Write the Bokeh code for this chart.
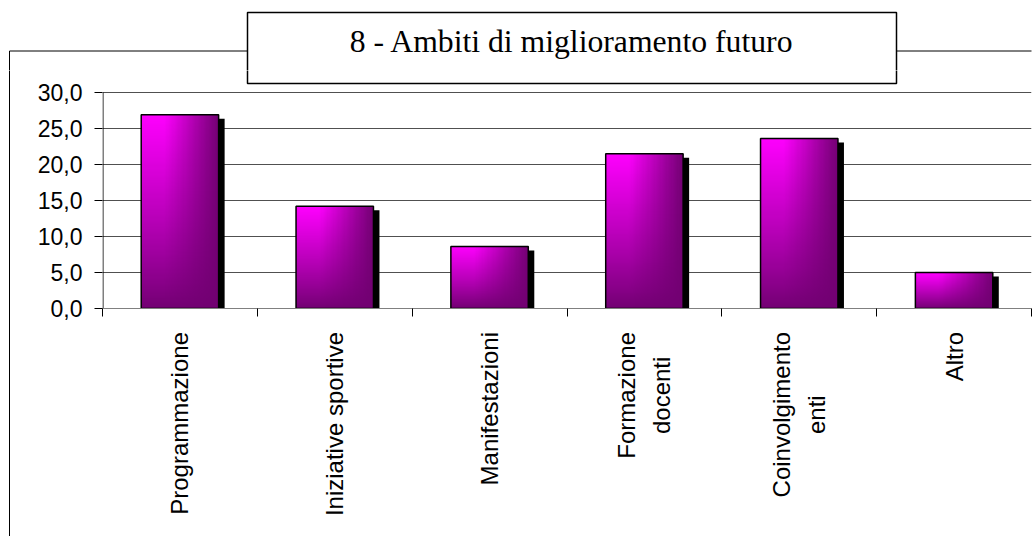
import math
import numpy as np
from bokeh.plotting import figure
from bokeh.layouts import row, column
from bokeh.models import Range1d, FixedTicker, ColumnDataSource
from bokeh.core.properties import value
from bokeh.embed import file_html
from bokeh.resources import INLINE

# ---- data ----
categories = ["Programmazione", "Iniziative sportive", "Manifestazioni",
              "Formazione\ndocenti", "Coinvolgimento\nenti", "Altro"]
values = [26.9, 14.2, 8.6, 21.5, 23.6, 5.0]
y_ticks = [0, 5, 10, 15, 20, 25, 30]
y_tick_labels = ["0,0", "5,0", "10,0", "15,0", "20,0", "25,0", "30,0"]
title_text = "8 - Ambiti di miglioramento futuro"

# ---- layout constants (page px) ----
PW, PH = 1036, 536
LW = 20                      # left strip width (outer border line)
TH = 70                      # top strip height
FL, FR, FT, FB = 102, 1031, 92, 308   # value-axis area on page
CB = 324                     # bottom edge of chart figure on page
RW = PW - LW
CH = CB - TH
BH = PH - CB
BORDER_X, BORDER_Y = 9, 50.5
BOX_L, BOX_R, BOX_T, BOX_B = 247, 896, 12, 83
TITLE_Y = 41
n = len(categories)
centers = [i + 0.5 for i in range(n)]
bounds = [float(i) for i in range(n + 1)]
YMAX = 30.0
px_x = n / (FR - FL)
px_y = YMAX / (FB - FT)
bar_w = 0.5


def blank(width, height, xr, yr, right=0):
    f = figure(width=width, height=height, x_range=xr, y_range=yr,
               output_backend="svg", toolbar_location=None, title_location=None,
               x_axis_location=None, y_axis_location=None,
               min_border_left=0, min_border_top=0, min_border_bottom=0,
               min_border_right=right,
               background_fill_color="white", border_fill_color="white")
    f.outline_line_color = None
    f.grid.visible = False
    return f


# ---- top strip: title box, title, outer border top ----
pt = blank(PW, TH, Range1d(0, PW - (PW - FR)), Range1d(TH, 0), right=PW - FR)
pt.segment(x0=[BORDER_X, BOX_R, BORDER_X], y0=[BORDER_Y, BORDER_Y, BORDER_Y],
           x1=[BOX_L, PW, BORDER_X], y1=[BORDER_Y, BORDER_Y, TH + 5],
           line_color="black", line_width=1)
pt.quad(left=[BOX_L], right=[BOX_R], top=[BOX_T], bottom=[BOX_B],
        fill_color="white", line_color="black", line_width=1.5)
pt.text(x=[(BOX_L + BOX_R) / 2], y=[TITLE_Y], text=[title_text],
        text_align="center", text_baseline="alphabetic",
        text_font=value("Liberation Serif"), text_font_size="31.7px",
        text_color="black")

# ---- left strip: outer border left line ----
pl = blank(LW, PH - TH, Range1d(0, LW), Range1d(PH, TH))
pl.segment(x0=[BORDER_X], y0=[TH - 5], x1=[BORDER_X], y1=[PH],
           line_color="black", line_width=1)

# ---- chart ----
y_top = YMAX + (FT - TH) * px_y
p = figure(width=RW, height=CH, output_backend="svg", toolbar_location=None,
           title_location=None,
           x_range=Range1d(0, n), y_range=Range1d(0, y_top),
           min_border_left=FL - LW, min_border_right=PW - FR,
           min_border_top=0, min_border_bottom=CB - FB,
           background_fill_color="white", border_fill_color="white")
p.outline_line_color = None

p.xgrid.visible = False
p.ygrid.ticker = FixedTicker(ticks=y_ticks)
p.ygrid.grid_line_color = "#505050"
p.ygrid.grid_line_width = 1

# lower part of title box (continues from the top strip)
p.quad(left=[(BOX_L - FL) * px_x], right=[(BOX_R - FL) * px_x],
       top=[(FB - BOX_T) * px_y], bottom=[(FB - BOX_B) * px_y],
       fill_color="white", line_color="black", line_width=1.5)

# value axis line (only over the 0..30 span)
p.segment(x0=[0.5 * px_x], y0=[0], x1=[0.5 * px_x], y1=[YMAX],
          line_color="black", line_width=1)

# shadows
shadow_src = ColumnDataSource(dict(
    x=[c + 6 * px_x for c in centers],
    top=[v - 4 * px_y for v in values]))
p.vbar(x="x", top="top", bottom=0, width=bar_w, source=shadow_src,
       fill_color="black", line_color=None)


def gradient(nx=64, ny=160):
    u = (np.arange(nx) + 0.5) / nx
    vb = (np.arange(ny) + 0.5) / ny
    U, VB = np.meshgrid(u, vb)
    f = np.where(U <= 0.3, 1.0, 1 - (U - 0.3) / 0.7)
    g = VB ** 0.9
    t = np.clip(f * g, 0, 1)
    dark, bright = 114.0, 255.0
    c = dark + (bright - dark) * t
    img = np.empty((ny, nx), dtype=np.uint32)
    view = img.view(dtype=np.uint8).reshape((ny, nx, 4))
    view[..., 0] = c.astype(np.uint8)
    view[..., 1] = 0
    view[..., 2] = c.astype(np.uint8)
    view[..., 3] = 255
    return img


img = gradient()
img_src = ColumnDataSource(dict(
    image=[img] * n,
    x=[c - bar_w / 2 for c in centers],
    y=[0] * n,
    dw=[bar_w] * n,
    dh=values))
p.image_rgba(image="image", x="x", y="y", dw="dw", dh="dh", source=img_src)

p.vbar(x=centers, top=values, bottom=0, width=bar_w,
       fill_alpha=0, line_color="black", line_width=1.5)

xa = p.xaxis[0]
xa.ticker = FixedTicker(ticks=centers, minor_ticks=bounds)
xa.major_label_overrides = {c: "" for c in centers}
xa.major_tick_out = 0
xa.major_tick_in = 0
xa.minor_tick_out = 8
xa.minor_tick_in = 0
xa.minor_tick_line_color = "black"
xa.axis_line_color = "#808080"
xa.major_label_standoff = 0
xa.major_label_text_font_size = "1px"

ya = p.yaxis[0]
ya.ticker = FixedTicker(ticks=y_ticks)
ya.major_label_overrides = {t: lab for t, lab in zip(y_ticks, y_tick_labels)}
ya.major_tick_out = 8
ya.major_tick_in = 0
ya.minor_tick_out = 0
ya.minor_tick_in = 0
ya.major_tick_line_color = "black"
ya.axis_line_color = None
ya.major_label_standoff = 12
ya.major_label_text_font = "Liberation Sans"
ya.major_label_text_font_size = "23px"
ya.major_label_text_color = "black"

# ---- category label strip (same x scale as chart) ----
pb = figure(width=RW, height=BH, output_backend="svg", toolbar_location=None,
            title_location=None, x_range=p.x_range, y_range=Range1d(BH, 0),
            x_axis_location=None, y_axis_location=None,
            min_border_left=FL - LW, min_border_right=PW - FR,
            min_border_top=0, min_border_bottom=0,
            background_fill_color="white", border_fill_color="white")
pb.outline_line_color = None
pb.grid.visible = False
label_top = 331.5 - CB
pb.text(x=centers, y=[label_top] * n, text=categories, angle=math.pi / 2,
        anchor="center_right", text_align="center",
        text_font=value("Liberation Sans"), text_font_size="24px",
        text_color="black", text_line_height=1.3)

layout = column(pt, row(pl, column(p, pb, spacing=0), spacing=0), spacing=0)
open("out.html", "w").write(file_html(layout, INLINE))
